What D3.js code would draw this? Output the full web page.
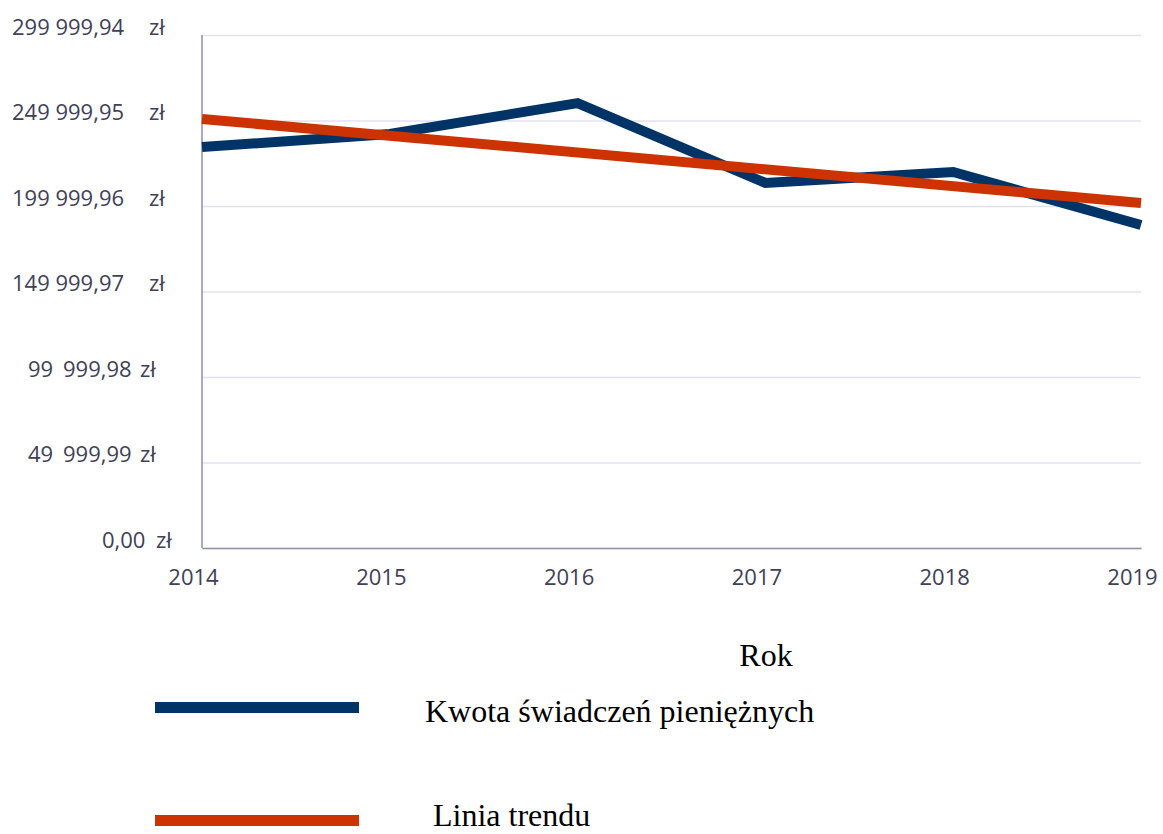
<!DOCTYPE html>
<html>
<head>
<meta charset="utf-8">
<script src="https://cdn.jsdelivr.net/npm/d3@7"></script>
<style>
  body { margin: 0; background: #fff; }
  .tick text { font-family: "Open Sans", sans-serif; fill: #404056; }
  .serif { font-family: "Liberation Serif", "Times New Roman", serif; fill: #000; }
</style>
</head>
<body>
<div id="chart"></div>
<script>
// data
const years = [2014, 2015, 2016, 2017, 2018, 2019];
const kwota = [234500, 242100, 260200, 213500, 219900, 188900];
const trend = [250900, 201750];            // start and end of linear trend line
const yTicks = [0, 49999.99, 99999.98, 149999.97, 199999.96, 249999.95, 299999.94];
const yTickLabels = [
    ["0,00", "zł"],
    ["49", "999,99", "zł"],
    ["99", "999,98", "zł"],
    ["149 999,97", "zł"],
    ["199 999,96", "zł"],
    ["249 999,95", "zł"],
    ["299 999,94", "zł"]
];
const seriesNames = ["Kwota świadczeń pieniężnych", "Linia trendu"];
const colors = ["#003366", "#cc3300"];

const W = 1163, H = 834;
const margin = {top: 35, right: 22, bottom: 286, left: 202};
const width = W - margin.left - margin.right;
const height = H - margin.top - margin.bottom;

const svg = d3.select('#chart').append('svg')
    .attr('width', W)
    .attr('height', H);

const g = svg.append('g')
    .attr('transform', `translate(${margin.left},${margin.top})`);

const xScale = d3.scaleLinear()
    .domain([years[0], years[years.length - 1]])
    .range([0, width]);

const yScale = d3.scaleLinear()
    .domain([0, yTicks[yTicks.length - 1]])
    .range([height, 0]);

// gridlines
g.append('g')
    .attr('class', 'grid')
    .call(d3.axisLeft(yScale).tickValues(yTicks).tickSize(-width).tickFormat(''))
    .call(s => s.select('.domain').remove())
    .selectAll('line')
    .attr('stroke', '#e2e2ec')
    .attr('stroke-width', 1.5);

// y axis labels, placed piece by piece like the original
const pieceX = [
    [-100, -46],
    [-174, -139, -62],
    [-174, -139, -62],
    [-190, -53],
    [-190, -53],
    [-190, -53],
    [-190, -53]
];
const yAxis = g.append('g')
    .call(d3.axisLeft(yScale).tickValues(yTicks).tickSize(0).tickFormat(''));
yAxis.select('.domain').remove();
yAxis.selectAll('.tick text')
    .attr('text-anchor', 'start')
    .attr('x', 0)
    .attr('dy', 0)
    .attr('y', -1)
    .style('font-size', '22px')
    .each(function(d, i) {
        const t = d3.select(this);
        yTickLabels[i].forEach((p, j) => {
            t.append('tspan').attr('x', pieceX[i][j]).text(p);
        });
    });

// left axis line
g.append('line')
    .attr('x1', 0).attr('x2', 0)
    .attr('y1', 0).attr('y2', height)
    .attr('stroke', '#8f8fa6')
    .attr('stroke-width', 1.5);

// x axis
const xAxis = g.append('g')
    .attr('transform', `translate(0,${height})`)
    .call(d3.axisBottom(xScale).tickValues(years).tickFormat(d3.format('d')).tickSize(0));
xAxis.select('.domain')
    .attr('stroke', '#8f8fa6')
    .attr('stroke-width', 1.5);
xAxis.selectAll('.tick text')
    .attr('x', -9)
    .attr('y', 30)
    .attr('dy', '0.32em')
    .style('font-size', '22px');

// lines
const line = d3.line()
    .x(d => xScale(d[0]))
    .y(d => yScale(d[1]));

g.append('path')
    .datum(years.map((y, i) => [y, kwota[i]]))
    .attr('fill', 'none')
    .attr('stroke', colors[0])
    .attr('stroke-width', 10)
    .attr('d', line);

g.append('path')
    .datum([[years[0], trend[0]], [years[years.length - 1], trend[1]]])
    .attr('fill', 'none')
    .attr('stroke', colors[1])
    .attr('stroke-width', 10)
    .attr('d', line);

// axis title
svg.append('text')
    .attr('class', 'serif')
    .attr('x', 766)
    .attr('y', 666)
    .attr('text-anchor', 'middle')
    .style('font-size', '32px')
    .text('Rok');

// legend
const legend = svg.append('g');
const legendY = [707, 820];
const legendTextX = [425, 433];
const legendTextY = [722, 826];
seriesNames.forEach((name, i) => {
    legend.append('rect')
        .attr('x', 155)
        .attr('y', legendY[i] - 5)
        .attr('width', 204)
        .attr('height', 11)
        .attr('fill', colors[i]);
    legend.append('text')
        .attr('class', 'serif')
        .attr('x', legendTextX[i])
        .attr('y', legendTextY[i])
        .style('font-size', '32px')
        .text(name);
});
</script>
</body>
</html>
